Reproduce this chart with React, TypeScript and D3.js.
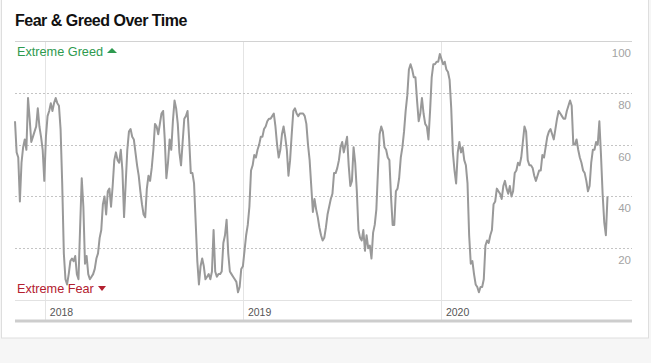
import React, { useEffect, useRef } from 'react';
import * as d3 from 'd3';

// index readings, one every 3 days starting at startDate
const startDate = '2017-11-07';
const stepDays = 3;
const fearGreed = [
  69, 57, 55, 38, 53, 59, 62, 58, 78, 70,
  61, 63, 65, 67, 74, 67, 63, 58, 46, 63,
  71, 73, 76, 73, 76, 78, 76, 75, 66, 45,
  18, 8, 6, 10, 15, 16, 15, 17, 10, 8,
  28, 47, 36, 14, 17, 10, 8, 9, 10, 12,
  16, 18, 24, 27, 37, 40, 33, 42, 43, 36,
  44, 54, 57, 54, 53, 58, 50, 32, 45, 58,
  65, 66, 63, 62, 57, 52, 48, 42, 37, 33,
  32, 43, 48, 46, 51, 58, 68, 67, 64, 68,
  72, 73, 62, 47, 53, 62, 58, 69, 77, 74,
  68, 57, 52, 61, 70, 71, 73, 62, 49, 49,
  45, 30, 15, 6, 13, 16, 13, 8, 9, 10,
  8, 11, 27, 11, 9, 10, 10, 11, 22, 25,
  31, 18, 11, 10, 9, 8, 7, 3, 5, 12,
  13, 19, 25, 29, 36, 50, 52, 56, 55, 58,
  60, 63, 63, 66, 67, 69, 70, 70, 71, 72,
  67, 60, 55, 58, 64, 67, 63, 58, 48, 54,
  64, 73, 74, 72, 71, 72, 72, 72, 71, 68,
  60, 54, 44, 34, 39, 35, 32, 28, 25, 23,
  24, 28, 33, 36, 39, 41, 49, 49, 51, 54,
  59, 61, 57, 60, 63, 52, 44, 46, 59, 53,
  42, 27, 24, 23, 27, 19, 25, 20, 21, 16,
  26, 29, 35, 50, 64, 67, 65, 59, 58, 55,
  54, 40, 29, 29, 42, 43, 47, 55, 59, 65,
  73, 79, 89, 91, 89, 86, 86, 77, 69, 72,
  78, 72, 68, 67, 62, 73, 86, 91, 91, 92,
  92, 95, 93, 91, 92, 89, 88, 85, 74, 57,
  50, 45, 57, 61, 57, 59, 54, 52, 45, 25,
  14, 15, 10, 6, 5, 3, 5, 5, 8, 21,
  23, 22, 25, 27, 37, 38, 43, 42, 41, 39,
  44, 46, 43, 41, 44, 40, 42, 49, 50, 53,
  52, 55, 61, 67, 65, 54, 52, 52, 51, 48,
  46, 48, 50, 50, 56, 55, 59, 63, 65, 66,
  64, 62, 66, 70, 73, 72, 71, 70, 70, 73,
  75, 77, 75, 60, 60, 62, 58, 55, 53, 50,
  49, 46, 42, 44, 53, 58, 58, 61, 60, 69,
  56, 41, 30, 25, 40,
];
const yTicks = [20, 40, 60, 80, 100];
const title = 'Fear & Greed Over Time';
const greedLabel = 'Extreme Greed';
const fearLabel = 'Extreme Fear';

const FONT = '"Liberation Sans", Arial, Helvetica, sans-serif';

const FearGreedChart = () => {
  const svgRef = useRef(null);

  useEffect(() => {
    const svg = d3.select(svgRef.current);
    svg.selectAll('*').remove();

    const width = 651;
    const height = 363;
    const left = 15;
    const right = 632;
    const top = 41;
    const bottom = 300;

    const start = d3.timeParse('%Y-%m-%d')(startDate);
    const data = fearGreed.map((v, i) => ({
      date: d3.timeDay.offset(start, i * stepDays),
      value: v,
    }));

    const x = d3.scaleTime()
      .domain(d3.extent(data, d => d.date))
      .range([15, 607.5]);
    const y = d3.scaleLinear().domain([0, 100]).range([bottom, top]);

    // page + card
    svg.append('rect').attr('width', width).attr('height', height).attr('fill', '#f6f6f6');
    svg.append('rect')
      .attr('x', 1.5).attr('y', -2)
      .attr('width', 647).attr('height', 340)
      .attr('fill', '#fff').attr('stroke', '#dedede');

    svg.append('text')
      .attr('x', 15).attr('y', 26)
      .attr('font-family', FONT).attr('font-size', 16).attr('font-weight', 700)
      .attr('letter-spacing', -0.5)
      .attr('fill', '#111')
      .text(title);

    // year lines
    const years = x.ticks(d3.timeYear.every(1));
    svg.selectAll('.yr')
      .data(years)
      .enter().append('line')
      .attr('x1', d => Math.round(x(d)) + 0.5).attr('x2', d => Math.round(x(d)) + 0.5)
      .attr('y1', top).attr('y2', 321)
      .attr('stroke', '#e4e4e4');

    // horizontal grid
    svg.selectAll('.grid')
      .data(yTicks.filter(t => t < 100))
      .enter().append('line')
      .attr('x1', left).attr('x2', right)
      .attr('y1', d => Math.round(y(d)) + 0.5).attr('y2', d => Math.round(y(d)) + 0.5)
      .attr('stroke', '#c4c4c4')
      .attr('stroke-dasharray', '2,2');

    svg.append('line')
      .attr('x1', left).attr('x2', right)
      .attr('y1', Math.round(y(100)) + 0.5).attr('y2', Math.round(y(100)) + 0.5)
      .attr('stroke', '#d2d2d2');
    svg.append('line')
      .attr('x1', left).attr('x2', right)
      .attr('y1', Math.round(y(0)) + 0.5).attr('y2', Math.round(y(0)) + 0.5)
      .attr('stroke', '#e2e2e2');
    svg.append('line')
      .attr('x1', left).attr('x2', right)
      .attr('y1', 321).attr('y2', 321)
      .attr('stroke', '#cdcdcd').attr('stroke-width', 3);

    // y labels (right side, below each line)
    svg.selectAll('.ylab')
      .data(yTicks)
      .enter().append('text')
      .attr('x', 631)
      .attr('y', d => y(d) + 16)
      .attr('text-anchor', 'end')
      .attr('font-family', FONT).attr('font-size', 11.5)
      .attr('fill', '#a3a3a3')
      .text(d => d);

    // year labels
    svg.selectAll('.xlab')
      .data(years)
      .enter().append('text')
      .attr('x', d => x(d) + 5)
      .attr('y', 316)
      .attr('font-family', FONT).attr('font-size', 10.5)
      .attr('fill', '#555')
      .text(d => d3.timeFormat('%Y')(d));

    const line = d3.line()
      .x(d => x(d.date))
      .y(d => y(d.value));

    svg.append('path')
      .datum(data)
      .attr('fill', 'none')
      .attr('stroke', '#999')
      .attr('stroke-width', 2)
      .attr('stroke-linejoin', 'round')
      .attr('d', line);

    // extreme labels
    svg.append('text')
      .attr('x', 17).attr('y', 56)
      .attr('font-family', FONT).attr('font-size', 12.7)
      .attr('fill', '#2e9a4f')
      .text(greedLabel);
    svg.append('path')
      .attr('d', 'M107,53 L112,48 L117,53 Z')
      .attr('fill', '#2e9a4f');

    svg.append('text')
      .attr('x', 17).attr('y', 293)
      .attr('font-family', FONT).attr('font-size', 12.7)
      .attr('fill', '#b3202f')
      .text(fearLabel);
    svg.append('path')
      .attr('d', 'M98,286 L106,286 L102,291 Z')
      .attr('fill', '#b3202f');

    svg.attr('width', width).attr('height', height);
  }, []);

  return <svg ref={svgRef} style={{ display: 'block' }}></svg>;
};

export default function App() {
  return (
    <div>
      <style>{'body{margin:0}'}</style>
      <FearGreedChart />
    </div>
  );
}
